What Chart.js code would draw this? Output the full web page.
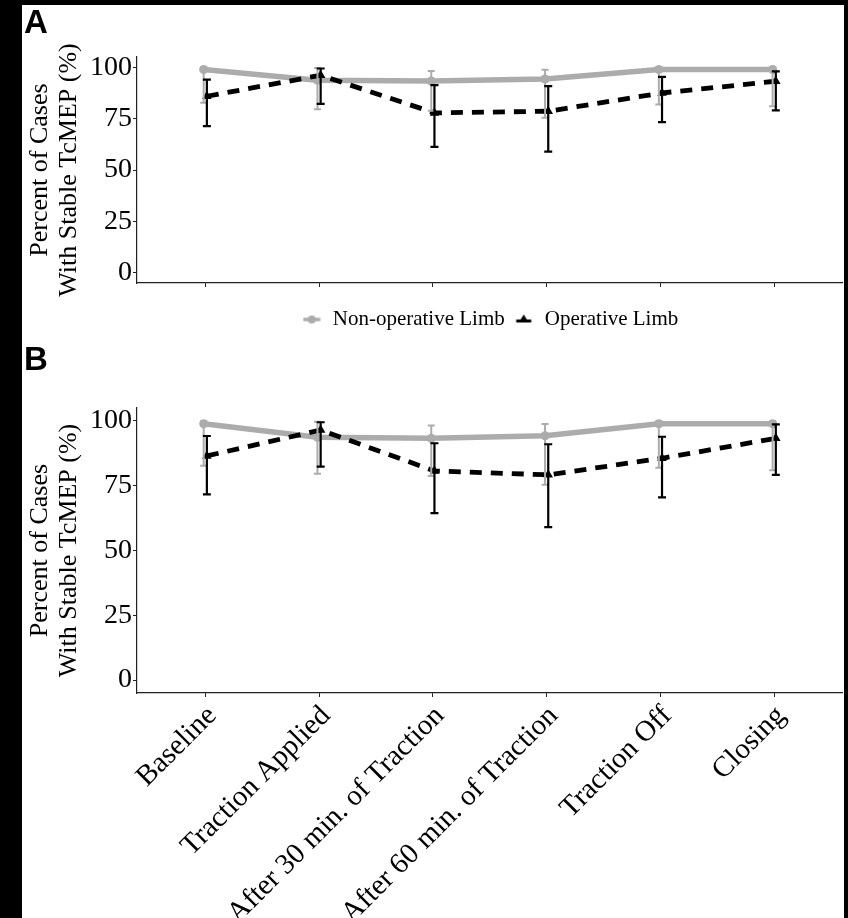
<!DOCTYPE html>
<html>
<head>
<meta charset="utf-8">
<script src="https://cdn.jsdelivr.net/npm/chart.js@4.4.1/dist/chart.umd.min.js"></script>
<style>
  html, body { margin: 0; padding: 0; background: #000; }
  body { width: 848px; height: 918px; position: relative; overflow: hidden; }
  #sheet { position: absolute; left: 22px; top: 5px; width: 822px; height: 913px; background: #fff; }
  .panel-label { position: absolute; font-family: "Liberation Sans", Arial, sans-serif; font-weight: bold; font-size: 33px; line-height: 33px; color: #000; }
  #wrapA { position: absolute; left: 22px; top: 5px; width: 826px; height: 335px; }
  #wrapB { position: absolute; left: 22px; top: 340px; width: 826px; height: 578px; }
</style>
</head>
<body>
<div id="sheet"></div>
<div id="wrapA"><canvas id="chartA" width="826" height="335"></canvas></div>
<div id="wrapB"><canvas id="chartB" width="826" height="578"></canvas></div>
<div class="panel-label" style="left:24px; top:5px;">A</div>
<div class="panel-label" style="left:24px; top:342px;">B</div>
<script>
// ---------- DATA ----------
const categories = ["Baseline", "Traction Applied", "After 30 min. of Traction", "After 60 min. of Traction", "Traction Off", "Closing"];
const seriesNames = ["Non-operative Limb", "Operative Limb"];
const yTicks = [0, 25, 50, 75, 100];

// Panel A
const nonOpA      = [98.9, 93.7, 93.3, 94.3, 98.9, 98.9];
const nonOpLowA   = [82.7, 79.6, 78.8, 75.4, 81.9, 81.0];
const nonOpHighA  = [100.0, 99.7, 98.2, 98.8, 100.0, 100.0];
const opA         = [85.9, 96.1, 77.8, 78.6, 87.5, 93.2];
const opLowA      = [71.4, 82.2, 61.3, 58.9, 73.3, 79.0];
const opHighA     = [94.0, 99.4, 91.3, 90.8, 95.3, 98.0];

// Panel B
const nonOpB      = [98.9, 93.7, 93.3, 94.3, 98.9, 98.9];
const nonOpLowB   = [82.7, 79.6, 78.8, 75.4, 81.9, 81.0];
const nonOpHighB  = [100.0, 99.7, 98.2, 98.8, 100.0, 100.0];
const opB         = [86.5, 96.5, 80.7, 79.2, 85.6, 93.3];
const opLowB      = [71.7, 82.4, 64.4, 59.0, 70.5, 79.2];
const opHighB     = [94.2, 99.5, 91.4, 91.0, 93.9, 98.7];

// ---------- STYLE ----------
const GRAY = '#acacac';
const BLACK = '#000000';
const AXIS = '#222222';
const SERIF = '"Liberation Serif", "Times New Roman", serif';
const DODGE = 0.014;

function makeKey(kind) {
  const c = document.createElement('canvas');
  c.width = 18; c.height = 14;
  const g = c.getContext('2d');
  if (kind === 'gray') {
    g.strokeStyle = GRAY; g.lineWidth = 3.5;
    g.beginPath(); g.moveTo(0.5, 7); g.lineTo(17.5, 7); g.stroke();
    g.fillStyle = GRAY; g.beginPath(); g.arc(9, 7, 4, 0, Math.PI * 2); g.fill();
  } else {
    g.strokeStyle = BLACK; g.lineWidth = 3;
    g.beginPath(); g.moveTo(1.5, 8.5); g.lineTo(16.5, 8.5); g.stroke();
    g.fillStyle = BLACK; g.beginPath(); g.moveTo(9, 2); g.lineTo(14, 10); g.lineTo(4, 10); g.closePath(); g.fill();
  }
  return c;
}
const keyGray = makeKey('gray');
const keyBlack = makeKey('black');

const errorBarPlugin = {
  id: 'errorBars',
  afterDatasetsDraw(chart) {
    const { ctx } = chart;
    const xs = chart.scales.x, ys = chart.scales.y;
    chart.data.datasets.forEach((ds, i) => {
      if (!chart.isDatasetVisible(i)) return;
      ctx.save();
      ctx.strokeStyle = ds.errColor;
      ctx.lineWidth = ds.errWidth;
      ctx.lineCap = 'butt';
      const half = ds.capHalf;
      ds.data.forEach((pt, j) => {
        const px = xs.getPixelForValue(pt.x);
        const yl = ys.getPixelForValue(ds.errLow[j]);
        const yh = ys.getPixelForValue(ds.errHigh[j]);
        ctx.beginPath();
        ctx.moveTo(px, yl); ctx.lineTo(px, yh);
        ctx.moveTo(px - half, yl); ctx.lineTo(px + half, yl);
        ctx.moveTo(px - half, yh); ctx.lineTo(px + half, yh);
        ctx.stroke();
      });
      ctx.restore();
    });
  }
};

function pts(vals, shift) {
  return vals.map((v, i) => ({ x: i + shift, y: v }));
}

function buildChart(id, d, opts) {
  const ctx = document.getElementById(id);
  return new Chart(ctx, {
    type: 'line',
    data: {
      datasets: [
        {
          label: seriesNames[0],
          data: pts(d.nonOp, -DODGE),
          errLow: d.nonOpLow, errHigh: d.nonOpHigh,
          errColor: GRAY, errWidth: 2, capHalf: 3.5,
          borderColor: GRAY, backgroundColor: GRAY,
          borderWidth: 5.5, pointRadius: 4.5, pointStyle: 'circle',
          pointBorderWidth: 0, pointBackgroundColor: GRAY,
          tension: 0, order: 1
        },
        {
          label: seriesNames[1],
          data: pts(d.op, DODGE),
          errLow: d.opLow, errHigh: d.opHigh,
          errColor: BLACK, errWidth: 2.2, capHalf: 4,
          borderColor: BLACK, backgroundColor: BLACK,
          borderWidth: 4.8, borderDash: [12, 9],
          pointRadius: 5.5, pointStyle: 'triangle',
          pointBorderWidth: 0, pointBackgroundColor: BLACK,
          tension: 0, order: 0
        }
      ]
    },
    options: {
      responsive: false,
      animation: false,
      devicePixelRatio: 1,
      layout: { padding: { top: opts.padTop, right: 2, bottom: opts.padBottom, left: 0 } },
      plugins: {
        tooltip: { enabled: false },
        legend: opts.legend ? {
          display: true,
          position: 'bottom',
          fullSize: false,
          labels: {
            usePointStyle: true,
            pointStyleWidth: 21,
            padding: 8.5,
            color: '#000',
            font: { family: SERIF, size: 21 },
            sort: (a, b) => a.datasetIndex - b.datasetIndex,
            generateLabels: (chart) => chart.data.datasets.map((ds, i) => ({
              text: ds.label,
              datasetIndex: i,
              pointStyle: i === 0 ? keyGray : keyBlack,
              fillStyle: ds.borderColor,
              strokeStyle: ds.borderColor,
              lineWidth: 0,
              hidden: false,
              fontColor: '#000'
            }))
          }
        } : { display: false }
      },
      scales: {
        x: {
          type: 'linear',
          min: -0.6, max: 5.6,
          afterBuildTicks: (axis) => { axis.ticks = categories.map((c, i) => ({ value: i })); },
          afterFit: (scale) => { scale.height = opts.xHeight; },
          grid: { display: true, drawOnChartArea: false, drawTicks: true, tickLength: 4, color: AXIS, lineWidth: 1 },
          border: { display: true, color: AXIS, width: 1.2 },
          ticks: {
            display: opts.xLabels,
            autoSkip: false,
            minRotation: 45, maxRotation: 45,
            padding: 2,
            labelOffset: 7,
            color: '#000',
            font: { family: SERIF, size: 29 },
            callback: (v) => categories[v] ?? ''
          }
        },
        y: {
          min: -5, max: 105,
          afterBuildTicks: (axis) => { axis.ticks = yTicks.map(v => ({ value: v })); },
          afterFit: (scale) => { scale.width = 115; },
          grid: { display: true, drawOnChartArea: false, drawTicks: true, tickLength: 4, color: AXIS, lineWidth: 1 },
          border: { display: true, color: AXIS, width: 1.2 },
          ticks: {
            color: '#000',
            padding: 1,
            font: { family: SERIF, size: 28 },
            callback: (v) => String(v)
          },
          title: {
            display: true,
            text: ["Percent of Cases", "With Stable TcMEP (%)"],
            color: '#000',
            font: { family: SERIF, size: 26, lineHeight: 1.12 },
            padding: { top: 3.5, bottom: 0 }
          }
        }
      }
    },
    plugins: [errorBarPlugin]
  });
}

buildChart('chartA', {
  nonOp: nonOpA, nonOpLow: nonOpLowA, nonOpHigh: nonOpHighA,
  op: opA, opLow: opLowA, opHigh: opHighA
}, { padTop: 52, padBottom: 0, xHeight: 17.5, xLabels: false, legend: true });

buildChart('chartB', {
  nonOp: nonOpB, nonOpLow: nonOpLowB, nonOpHigh: nonOpHighB,
  op: opB, opLow: opLowB, opHigh: opHighB
}, { padTop: 68, padBottom: 0, xHeight: 225, xLabels: true, legend: false });
</script>
</body>
</html>
